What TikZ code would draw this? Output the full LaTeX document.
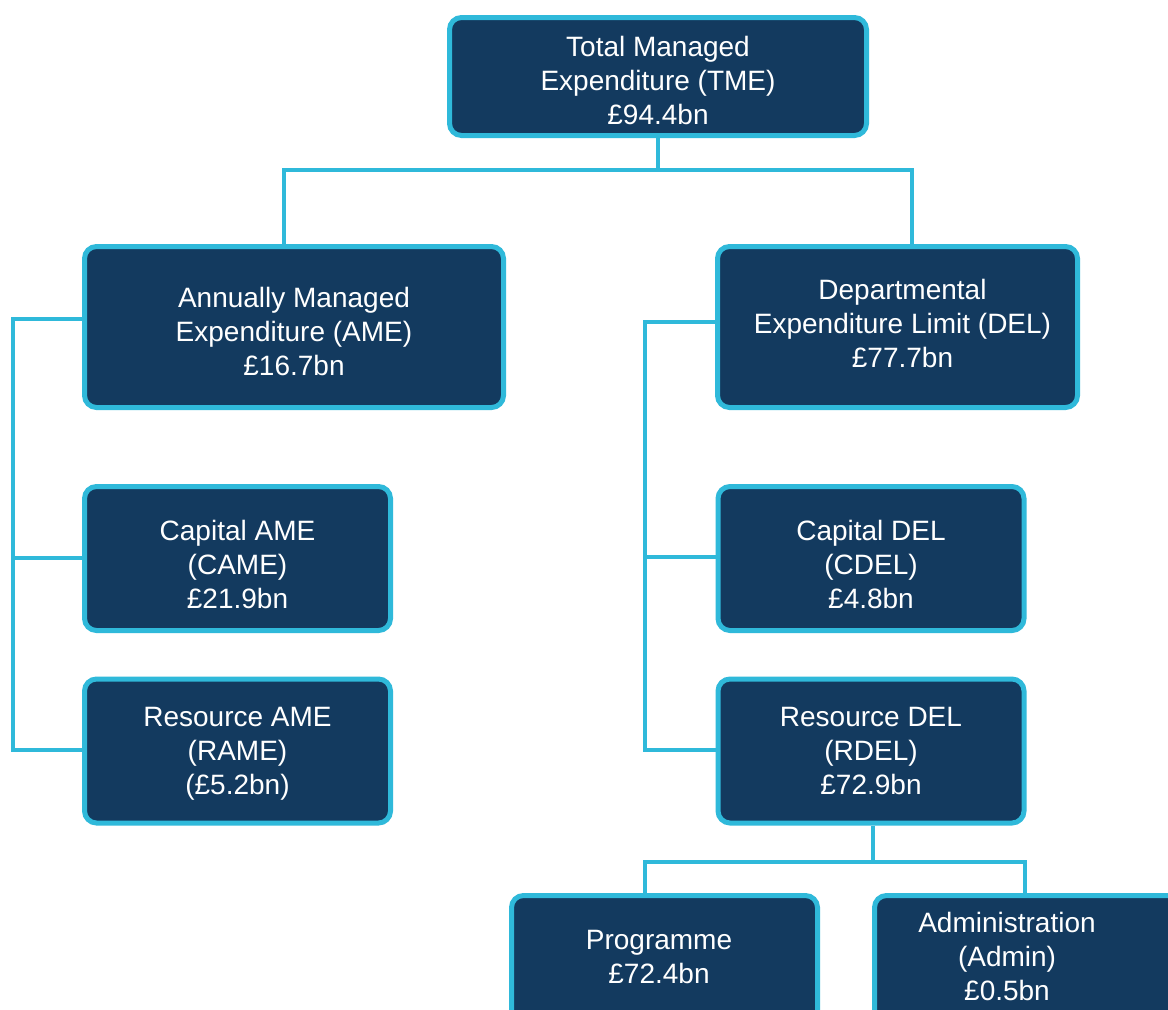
\documentclass[tikz,border=0pt]{standalone}
\usepackage{fontspec}
\setmainfont{Liberation Sans}
\usetikzlibrary{backgrounds}
\definecolor{boxfill}{HTML}{133A5F}
\definecolor{boxline}{HTML}{2FB9DA}
\newcommand\btext[2]{\raisebox{-#1}[\height][\depth]{\begin{tabular}{@{}c@{}}#2\end{tabular}}}
\begin{document}
\begin{tikzpicture}[x=0.75pt,y=-0.75pt,
  box/.style={draw=boxline, fill=boxfill, line width=3.75pt, rounded corners=9pt,
    text=white, align=center, inner sep=0pt, font=\fontsize{21}{25.5}\selectfont},
  txt/.style={text=white, align=center, inner sep=0pt, font=\fontsize{21}{25.5}\selectfont},
  conn/.style={draw=boxline, line width=2.4pt}]
\useasboundingbox (0,0) rectangle (1168,1010);
\clip (0,0) rectangle (1168,1010);
% junction coordinates
\coordinate (t1) at (658,170);
\coordinate (a0) at (284,170);
\coordinate (d0) at (912,170);
\coordinate (aL) at (13,319);
\coordinate (aC) at (13,558);
\coordinate (aB) at (13,750);
\coordinate (dL) at (645,322);
\coordinate (dC) at (645,557);
\coordinate (dB) at (645,750);
\coordinate (r1) at (873,862);
\coordinate (p1) at (645,862);
\coordinate (p2) at (1025,862);
% boxes
\node[box, minimum width=312.75pt, minimum height=88.5pt] (tme) at (658,76.5)
  {\btext{5.25pt}{Total Managed\\Expenditure (TME)\\\pounds94.4bn}};
\node[box, minimum width=314.25pt, minimum height=120.75pt] (ame) at (294,327)
  {\btext{6pt}{Annually Managed\\Expenditure (AME)\\\pounds16.7bn}};
\node[box, minimum width=270pt, minimum height=120.75pt] (del) at (897.5,327)
  {};
\node[txt] (deltxt) at (902.5,323) {Departmental\\Expenditure Limit (DEL)\\\pounds77.7bn};
\node[box, minimum width=229.5pt, minimum height=108pt] (came) at (237.5,558.5)
  {\btext{6.75pt}{Capital AME\\(CAME)\\\pounds21.9bn}};
\node[box, minimum width=229.5pt, minimum height=108pt] (rame) at (237.5,751)
  {\btext{2.25pt}{Resource AME\\(RAME)\\(\pounds5.2bn)}};
\node[box, minimum width=229.5pt, minimum height=108pt] (cdel) at (871,558.5)
  {\btext{6.75pt}{Capital DEL\\(CDEL)\\\pounds4.8bn}};
\node[box, minimum width=229.5pt, minimum height=108pt] (rdel) at (871,751)
  {\btext{2.25pt}{Resource DEL\\(RDEL)\\\pounds72.9bn}};
\node[box, minimum width=229.5pt, minimum height=108pt] (prog) at (664.5,967.5) {};
\node[txt] (progtxt) at (659,957) {Programme\\\pounds72.4bn};
\node[box, minimum width=229.5pt, minimum height=108pt] (admin) at (1027.5,967.5) {};
\node[txt] (admintxt) at (1007,956) {Administration\\(Admin)\\\pounds0.5bn};
% connectors (drawn behind boxes)
\begin{pgfonlayer}{background}
\fill[white] (0,0) rectangle (1168,1010);
\draw[conn] (tme.south -| t1) -- (t1);
\draw[conn] (a0 |- ame.north) -- (a0) -- (d0) -- (d0 |- del.north);
\draw[conn] (ame.west |- aL) -- (aL) -- (aB) -- (rame.west |- aB);
\draw[conn] (aC) -- (came.west |- aC);
\draw[conn] (del.west |- dL) -- (dL) -- (dB) -- (rdel.west |- dB);
\draw[conn] (dC) -- (cdel.west |- dC);
\draw[conn] (rdel.south -| r1) -- (r1);
\draw[conn] (p1 |- prog.north) -- (p1) -- (p2) -- (p2 |- admin.north);
\end{pgfonlayer}
\end{tikzpicture}
\end{document}
